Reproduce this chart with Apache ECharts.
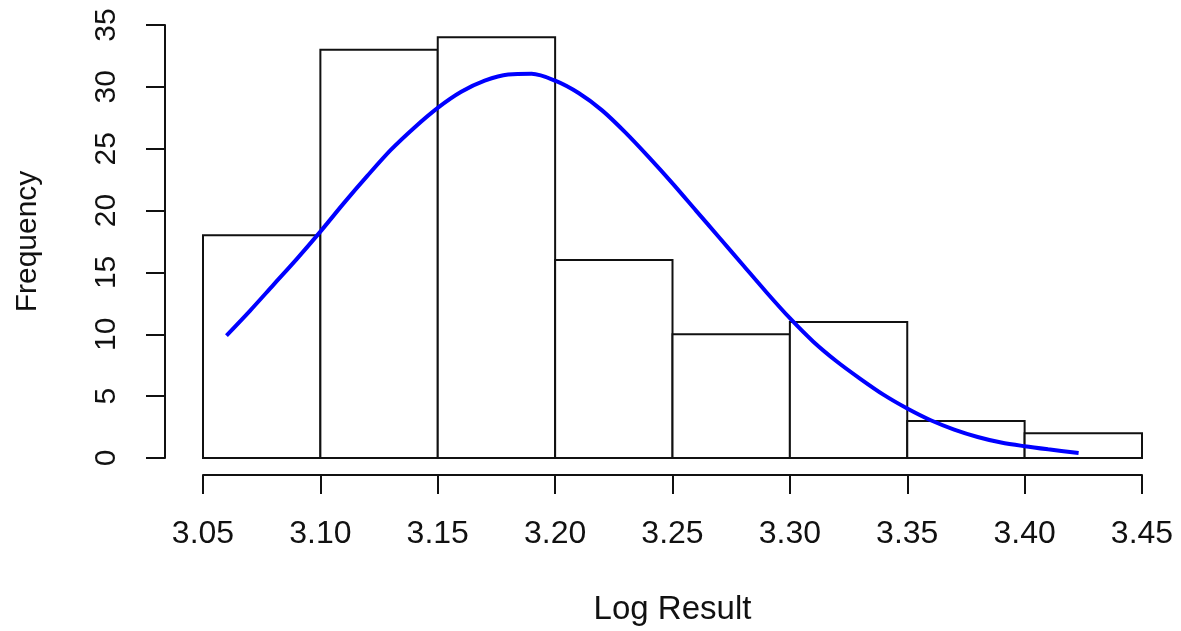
<!DOCTYPE html>
<html>
<head>
<meta charset="utf-8">
<script src="https://cdn.jsdelivr.net/npm/echarts@6/dist/echarts.min.js"></script>
<style>
  html, body { margin: 0; padding: 0; background: #fff; }
  #main { width: 1181px; height: 631px; }
</style>
</head>
<body>
<div id="main"></div>
<script>
// histogram bins (left edges) and counts
var binStart = [3.05, 3.10, 3.15, 3.20, 3.25, 3.30, 3.35, 3.40];
var binWidth = 0.05;
var counts = [18, 33, 34, 16, 10, 11, 3, 2];

// fitted density curve
var curveX = [3.06, 3.07, 3.08, 3.09, 3.10, 3.11, 3.12, 3.13, 3.14, 3.15, 3.16, 3.17, 3.18, 3.19,
              3.20, 3.21, 3.22, 3.23, 3.24, 3.25, 3.26, 3.27, 3.28, 3.29, 3.30, 3.31, 3.32, 3.33,
              3.34, 3.35, 3.36, 3.37, 3.38, 3.39, 3.40, 3.41, 3.423];
var curveY = [9.9, 11.9, 14.0, 16.1, 18.3, 20.6, 22.8, 24.9, 26.7, 28.3, 29.6, 30.5, 31.0, 31.05,
              30.5, 29.5, 28.1, 26.3, 24.3, 22.2, 20.0, 17.8, 15.6, 13.4, 11.3, 9.4, 7.8, 6.4,
              5.1, 4.0, 3.05, 2.3, 1.7, 1.25, 0.95, 0.7, 0.4];

var xTicks = ['3.05', '3.10', '3.15', '3.20', '3.25', '3.30', '3.35', '3.40', '3.45'];

var font = 'Liberation Sans, Arial, sans-serif';

var barData = binStart.map(function (s, i) { return [s, s + binWidth, counts[i]]; });
var curveData = curveX.map(function (x, i) { return [x, curveY[i]]; });

var chart = echarts.init(document.getElementById('main'));
chart.setOption({
  animation: false,
  backgroundColor: '#fff',
  grid: { left: 203, right: 39, top: 25, bottom: 172 },
  xAxis: {
    type: 'value',
    min: 3.05, max: 3.45, interval: 0.05,
    offset: 17,
    name: 'Log Result',
    nameLocation: 'middle',
    nameGap: 118,
    nameTextStyle: { fontSize: 33, color: '#111', fontFamily: font },
    axisLine: { onZero: false, lineStyle: { color: '#111', width: 2 } },
    axisTick: { length: 19, lineStyle: { color: '#111', width: 2 } },
    axisLabel: {
      fontSize: 32, color: '#111', fontFamily: font, margin: 43,
      formatter: function (v) { return xTicks[Math.round((v - 3.05) / 0.05)]; }
    },
    splitLine: { show: false }
  },
  yAxis: {
    type: 'value',
    min: 0, max: 35, interval: 5,
    offset: 38,
    name: 'Frequency',
    nameLocation: 'middle',
    nameGap: 122,
    nameTextStyle: { fontSize: 30, color: '#111', fontFamily: font },
    axisLine: { show: true, onZero: false, lineStyle: { color: '#111', width: 2 } },
    axisTick: { show: true, length: 19, lineStyle: { color: '#111', width: 2 } },
    axisLabel: { rotate: 90, fontSize: 30, color: '#111', fontFamily: font, margin: 43 },
    splitLine: { show: false }
  },
  series: [
    {
      type: 'custom',
      data: barData,
      renderItem: function (params, api) {
        var p0 = api.coord([api.value(0), 0]);
        var p1 = api.coord([api.value(1), api.value(2)]);
        return {
          type: 'rect',
          shape: { x: p0[0], y: p1[1], width: p1[0] - p0[0], height: p0[1] - p1[1] },
          style: { fill: '#fff', stroke: '#111', lineWidth: 2 }
        };
      },
      encode: { x: [0, 1], y: 2 },
      z: 1
    },
    {
      type: 'line',
      data: curveData,
      smooth: 0.3,
      showSymbol: false,
      lineStyle: { color: '#0000ff', width: 4 },
      z: 3
    }
  ]
});
</script>
</body>
</html>
